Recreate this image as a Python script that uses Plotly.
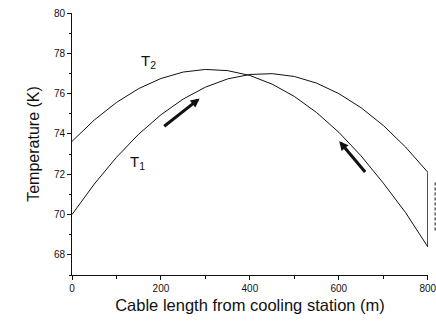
import plotly.graph_objects as go

# Data
length_m = [0, 50, 100, 150, 200, 250, 300, 350, 400, 450, 500, 550, 600, 650, 700, 750, 800]
T1 = [70.00, 71.51, 72.84, 73.99, 74.95, 75.73, 76.32, 76.73, 76.95, 76.99, 76.85, 76.52, 76.00, 75.30, 74.42, 73.35, 72.10]
T2 = [73.63, 74.69, 75.56, 76.25, 76.75, 77.07, 77.20, 77.14, 76.90, 76.47, 75.86, 75.06, 74.08, 72.91, 71.56, 70.10, 68.40]
x_ticks = [0, 200, 400, 600, 800]
y_ticks = [68, 70, 72, 74, 76, 78, 80]

# the vertical connection at the far end (T1 end -> T2 end)
end_x = [length_m[-1], length_m[-1]]
end_y = [T1[-1], T2[-1]]

FONT = "Liberation Sans, Arial, sans-serif"
INK = "#111111"

fig = go.Figure()
for ys in (T1, T2):
    fig.add_trace(go.Scatter(x=length_m, y=ys, mode="lines", cliponaxis=False,
                             line=dict(color=INK, width=1), showlegend=False))
fig.add_trace(go.Scatter(x=end_x, y=end_y, mode="lines", cliponaxis=False,
                         line=dict(color=INK, width=1), showlegend=False))

fig.update_layout(
    width=436, height=325,
    margin=dict(l=72, r=8, t=13, b=50, autoexpand=False),
    paper_bgcolor="white", plot_bgcolor="white",
    font=dict(family=FONT, color=INK, size=10),
    showlegend=False,
)

fig.update_xaxes(
    range=[0, 800.5], tickvals=x_ticks, ticktext=[str(v) for v in x_ticks],
    showline=True, linecolor=INK, linewidth=1, mirror=False,
    showgrid=False, zeroline=False, automargin=False,
    ticks="outside", ticklen=4, tickcolor=INK, tickwidth=1,
    ticklabeloverflow="allow",
    minor=dict(tickvals=[100, 300, 500, 700], ticks="outside", ticklen=2.5, tickcolor=INK),
    tickfont=dict(size=10, family=FONT),
    title=dict(text="Cable length from cooling station (m)",
               font=dict(size=16.5, family=FONT), standoff=6),
)
fig.update_yaxes(
    range=[67, 80], tickvals=y_ticks, ticktext=[str(v) for v in y_ticks],
    showline=True, linecolor=INK, linewidth=1, mirror=False,
    showgrid=False, zeroline=False, automargin=False,
    ticks="outside", ticklen=4, tickcolor=INK, tickwidth=1,
    minor=dict(dtick=1, ticks="outside", ticklen=2.5, tickcolor=INK),
    tickfont=dict(size=10, family=FONT),
    title=dict(text="Temperature (K)", font=dict(size=16, family=FONT), standoff=10),
)

# curve labels
fig.add_annotation(x=172, y=77.6, xref="x", yref="y", text="T<sub>2</sub>",
                   showarrow=False, font=dict(size=15, family=FONT, color=INK))
fig.add_annotation(x=147, y=72.6, xref="x", yref="y", text="T<sub>1</sub>",
                   showarrow=False, font=dict(size=15, family=FONT, color=INK))

# flow arrows
fig.add_annotation(x=287, y=75.76, ax=204, ay=74.32, xref="x", yref="y",
                   axref="x", ayref="y", text="", showarrow=True,
                   arrowhead=2, arrowsize=0.6, arrowwidth=3, arrowcolor=INK)
fig.add_annotation(x=601, y=73.64, ax=662, ay=72.04, xref="x", yref="y",
                   axref="x", ayref="y", text="", showarrow=True,
                   arrowhead=2, arrowsize=0.6, arrowwidth=3, arrowcolor=INK)

# dashed vertical marker beyond the right end
fig.add_shape(type="line", xref="paper", yref="paper",
              x0=1.02, x1=1.02, y0=0.17, y1=0.353,
              line=dict(color=INK, width=1, dash="3px,2px"))

fig.write_html("out.html",
               config={"displayModeBar": False},
               post_script="document.body.style.margin='0';document.body.style.overflow='hidden';")
